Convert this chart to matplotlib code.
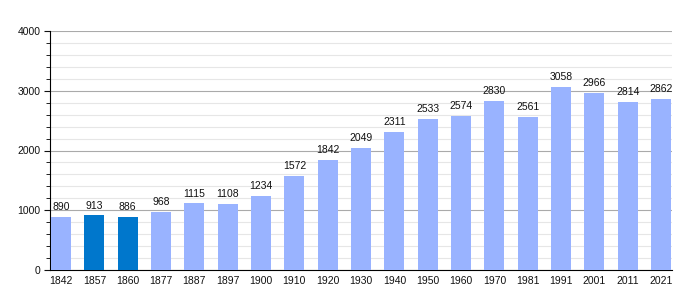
import matplotlib
matplotlib.use("Agg")
import matplotlib.pyplot as plt
from matplotlib.ticker import MultipleLocator

years = ["1842", "1857", "1860", "1877", "1887", "1897", "1900", "1910", "1920", "1930",
         "1940", "1950", "1960", "1970", "1981", "1991", "2001", "2011", "2021"]
population = [890, 913, 886, 968, 1115, 1108, 1234, 1572, 1842, 2049,
              2311, 2533, 2574, 2830, 2561, 3058, 2966, 2814, 2862]
highlight = ["1857", "1860"]

light = "#99b3ff"
dark = "#0077cc"

plt.rcParams['font.family'] = ['Liberation Sans', 'DejaVu Sans']
fig = plt.figure(figsize=(7, 3), dpi=100)
ax = fig.add_axes([50/700, 0.1, 622/700, 239/300])

x = list(range(len(years)))
colors = [dark if y in highlight else light for y in years]
ax.bar(x, population, width=0.6, color=colors, zorder=3)
for xi, v in zip(x, population):
    ax.annotate(str(v), (xi, v), xytext=(0, 3.5), textcoords="offset points",
                ha="center", va="bottom", fontsize=7.5, color="#111111", zorder=4)

ax.set_xlim(-0.33, len(years) - 1 + 0.33)
ax.set_ylim(0, 4000)
ax.set_xticks(x)
ax.set_xticklabels(years)
ax.yaxis.set_major_locator(MultipleLocator(1000))
ax.yaxis.set_minor_locator(MultipleLocator(200))
ax.grid(axis="y", which="major", color="#aaaaaa", linewidth=0.8, zorder=0)
ax.grid(axis="y", which="minor", color="#e6e6e6", linewidth=0.8, zorder=0)
ax.tick_params(axis="both", labelsize=7.5, colors="#111111")
ax.tick_params(axis="x", length=0, pad=4.5)
ax.tick_params(axis="y", which="major", length=4, pad=3)
ax.tick_params(axis="y", which="minor", length=3)
for s in ["top", "right"]:
    ax.spines[s].set_visible(False)
ax.spines["left"].set_color("black")
ax.spines["bottom"].set_color("black")
ax.spines["left"].set_linewidth(0.8)
ax.spines["bottom"].set_linewidth(0.8)

fig.savefig("out.png", dpi=100)
